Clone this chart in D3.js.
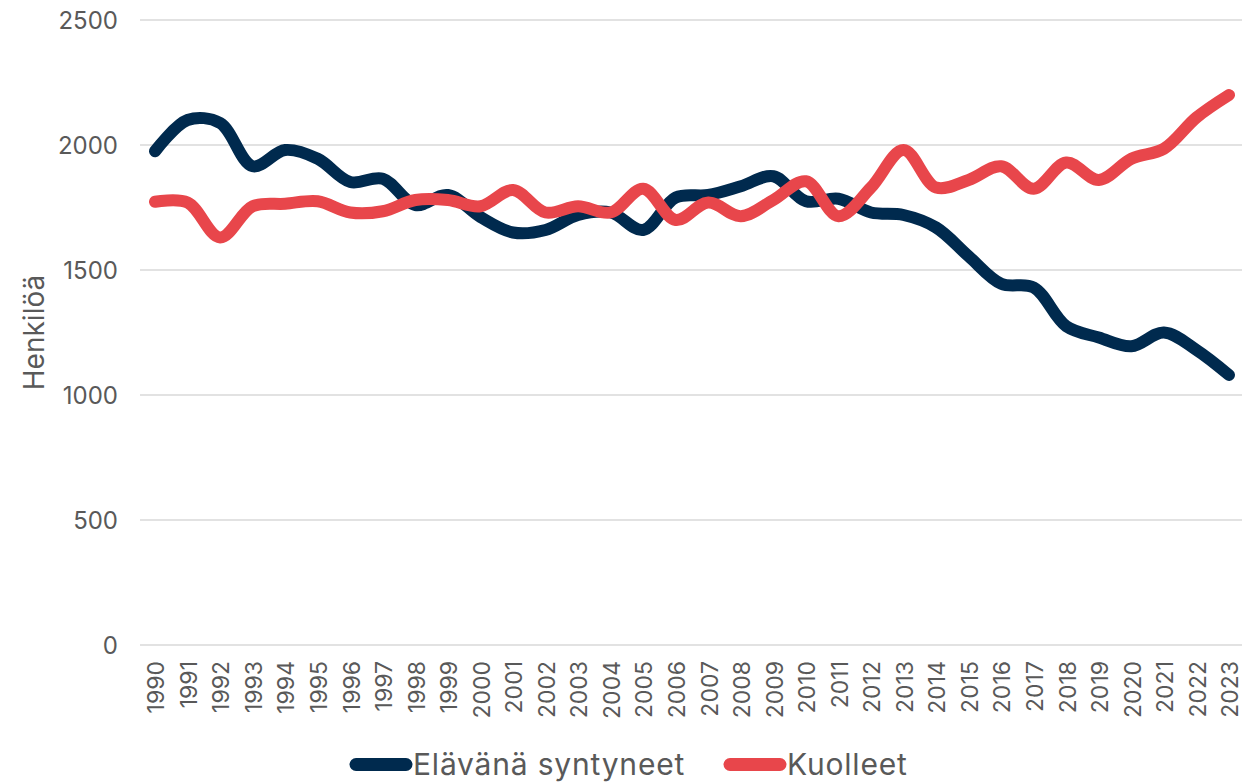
<!DOCTYPE html>
<html lang="fi">
<head>
  <meta charset="utf-8">
  <script src="https://d3js.org/d3.v7.min.js"></script>
  <style>
    body { margin: 0; background: #fff; }
    svg text { font-family: Inter, Roboto, sans-serif; fill: #595959; }
  </style>
</head>
<body>
<svg id="chart" width="1251" height="782"></svg>
<script>
  // Data
  const years = d3.range(1990, 2024).map(String);
  const births = [1975, 2100, 2088, 1915, 1980, 1945, 1852, 1865, 1760, 1800,
                  1712, 1650, 1660, 1720, 1730, 1660, 1790, 1800, 1835, 1875,
                  1775, 1785, 1730, 1720, 1670, 1555, 1445, 1430, 1275, 1230,
                  1195, 1250, 1180, 1080];
  const deaths = [1773, 1770, 1630, 1755, 1765, 1775, 1730, 1735, 1780, 1780,
                  1755, 1820, 1730, 1755, 1730, 1825, 1700, 1770, 1715, 1780,
                  1855, 1715, 1830, 1980, 1830, 1860, 1915, 1825, 1930, 1860,
                  1945, 1985, 2110, 2200];
  const yTicks = [0, 500, 1000, 1500, 2000, 2500];
  const seriesNames = ["Elävänä syntyneet", "Kuolleet"];
  const colors = ["#002a4e", "#e8464b"];

  const svg = d3.select("#chart");

  const x = d3.scalePoint().domain(years).range([155, 1229]);
  const y = d3.scaleLinear().domain([0, 2500]).range([645, 20]);

  // gridlines
  svg.append("g")
    .selectAll("line")
    .data(yTicks)
    .join("line")
    .attr("x1", 140)
    .attr("x2", 1242)
    .attr("y1", d => y(d))
    .attr("y2", d => y(d))
    .attr("stroke", "#d9d9d9")
    .attr("stroke-width", 1.5);

  // y tick labels
  svg.append("g")
    .selectAll("text")
    .data(yTicks)
    .join("text")
    .attr("x", 118)
    .attr("y", d => y(d))
    .attr("dy", "0.36em")
    .attr("text-anchor", "end")
    .attr("font-size", 24)
    .text(d => d);

  // y axis title
  svg.append("text")
    .attr("transform", "translate(44," + y(1250) + ") rotate(-90)")
    .attr("text-anchor", "middle")
    .attr("font-size", 28)
    .text("Henkilöä");

  // x tick labels
  svg.append("g")
    .selectAll("text")
    .data(years)
    .join("text")
    .attr("transform", d => "translate(" + (x(d) + 1) + ",661) rotate(-90)")
    .attr("dy", "0.36em")
    .attr("text-anchor", "end")
    .attr("font-size", 23)
    .text(d => d);

  // lines
  const line = d3.line()
    .x((d, i) => x(years[i]))
    .y(d => y(d))
    .curve(d3.curveCatmullRom.alpha(0.5));

  [births, deaths].forEach((s, k) => {
    svg.append("path")
      .datum(s)
      .attr("d", line)
      .attr("fill", "none")
      .attr("stroke", colors[k])
      .attr("stroke-width", 12)
      .attr("stroke-linecap", "round")
      .attr("stroke-linejoin", "round");
  });

  // legend
  const legendX = [350, 724];
  const legend = svg.append("g");
  seriesNames.forEach((name, k) => {
    legend.append("line")
      .attr("x1", legendX[k] + 6)
      .attr("x2", legendX[k] + 56)
      .attr("y1", 764.5)
      .attr("y2", 764.5)
      .attr("stroke", colors[k])
      .attr("stroke-width", 13)
      .attr("stroke-linecap", "round");
    legend.append("text")
      .attr("x", legendX[k] + 63)
      .attr("y", 764)
      .attr("dy", "0.36em")
      .attr("font-size", 30)
      .attr("letter-spacing", 0.8)
      .text(name);
  });
</script>
</body>
</html>
